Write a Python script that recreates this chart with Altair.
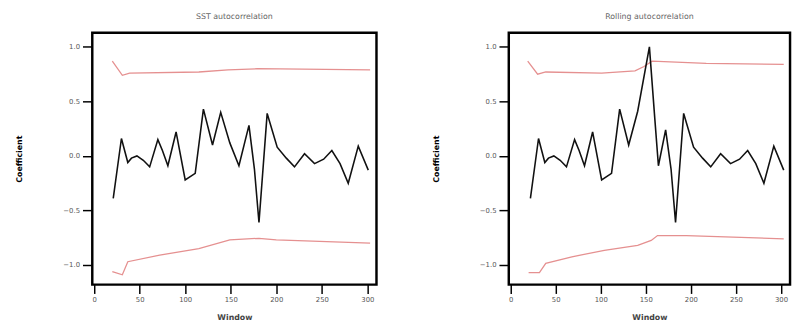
import altair as alt
import pandas as pd

panel_titles = ["SST autocorrelation", "Rolling autocorrelation"]
x_title = "Window"
y_title = "Coefficient"
x_ticks = [0, 50, 100, 150, 200, 250, 300]
y_ticks = [-1.0, -0.5, 0.0, 0.5, 1.0]

# left panel series
left_x = [21, 30, 37, 41, 47, 54, 61, 70, 75, 81, 90, 100, 111, 120, 130, 139, 149, 159,
          170, 176, 181, 190, 201, 211, 220, 231, 242, 252, 261, 270, 279, 290, 301]
left_y = [-0.39, 0.16, -0.06, -0.02, 0.0, -0.04, -0.10, 0.15, 0.05, -0.09, 0.22, -0.22,
          -0.16, 0.43, 0.10, 0.40, 0.12, -0.09, 0.28, -0.12, -0.61, 0.39, 0.08, -0.02,
          -0.10, 0.02, -0.07, -0.03, 0.05, -0.07, -0.25, 0.09, -0.13]
left_up_x = [20, 31, 39, 115, 147, 179, 303]
left_up_y = [0.87, 0.74, 0.76, 0.77, 0.79, 0.80, 0.79]
left_lo_x = [20, 31, 37, 72, 115, 149, 181, 200, 303]
left_lo_y = [-1.06, -1.09, -0.97, -0.91, -0.85, -0.77, -0.755, -0.77, -0.80]

# right panel series
right_x = [22, 31, 38, 42, 48, 55, 62, 71, 76, 82, 91, 101, 112, 121, 131, 141, 154, 160,
           164, 172, 178, 183, 192, 203, 213, 222, 233, 244, 254, 263, 272, 281, 292, 303]
right_y = [-0.39, 0.16, -0.06, -0.02, 0.0, -0.04, -0.10, 0.15, 0.05, -0.09, 0.22, -0.22,
           -0.16, 0.43, 0.10, 0.41, 1.0, 0.34, -0.09, 0.24, -0.12, -0.61, 0.39, 0.08,
           -0.02, -0.10, 0.02, -0.07, -0.03, 0.05, -0.07, -0.25, 0.09, -0.13]
right_up_x = [19, 30, 39, 101, 138, 148, 157, 217, 303]
right_up_y = [0.87, 0.75, 0.77, 0.76, 0.78, 0.82, 0.87, 0.85, 0.84]
right_lo_x = [20, 32, 39, 68, 104, 141, 156, 163, 195, 303]
right_lo_y = [-1.07, -1.07, -0.985, -0.925, -0.865, -0.82, -0.775, -0.73, -0.73, -0.76]


def frame(xs, ys, name):
    return pd.DataFrame({"x": xs, "y": ys, "s": name})


def panel(title, main, up, lo, width):
    xs = alt.Scale(domain=[-2, 310], nice=False, zero=False)
    ys = alt.Scale(domain=[-1.18, 1.13], nice=False, zero=False)
    xax = alt.Axis(values=x_ticks, title=x_title, grid=False, tickSize=9,
                   labelPadding=2, titlePadding=12)
    yax = alt.Axis(values=y_ticks, title=y_title, grid=False, tickSize=10,
                   labelPadding=3, format=".1f", titleX=-70, titleFontWeight="bold",
                   titleColor="#000000")
    bands = pd.concat([frame(*up, "upper"), frame(*lo, "lower")])
    red = alt.Chart(bands).mark_line(color="#e59090", strokeWidth=1.3).encode(
        x=alt.X("x:Q", scale=xs, axis=xax),
        y=alt.Y("y:Q", scale=ys, axis=yax),
        detail="s:N",
    )
    blk = alt.Chart(frame(*main, "main")).mark_line(color="#111111", strokeWidth=1.6).encode(
        x=alt.X("x:Q", scale=xs, axis=xax),
        y=alt.Y("y:Q", scale=ys, axis=yax),
    )
    return alt.layer(red, blk).properties(
        width=width, height=257,
        title=alt.TitleParams(title, fontSize=8, color="#666666", fontWeight="normal", offset=12),
    )


left = panel(panel_titles[0], (left_x, left_y), (left_up_x, left_up_y), (left_lo_x, left_lo_y), 290)
right = panel(panel_titles[1], (right_x, right_y), (right_up_x, right_up_y), (right_lo_x, right_lo_y), 287)

chart = alt.hconcat(left, right, spacing=53).properties(
    padding={"left": 6, "top": 0, "right": 0, "bottom": 0}
).configure_view(
    stroke="#000000", strokeWidth=2.5
).configure_axis(
    domain=False, tickColor="#000000", tickWidth=1.5, labelFontSize=7, labelColor="#555555",
    titleFontSize=8, titleColor="#444444", labelFont="DejaVu Sans", titleFont="DejaVu Sans"
).configure_title(font="DejaVu Sans")

chart.save("out.html", embed_options={"renderer": "svg", "actions": False})
